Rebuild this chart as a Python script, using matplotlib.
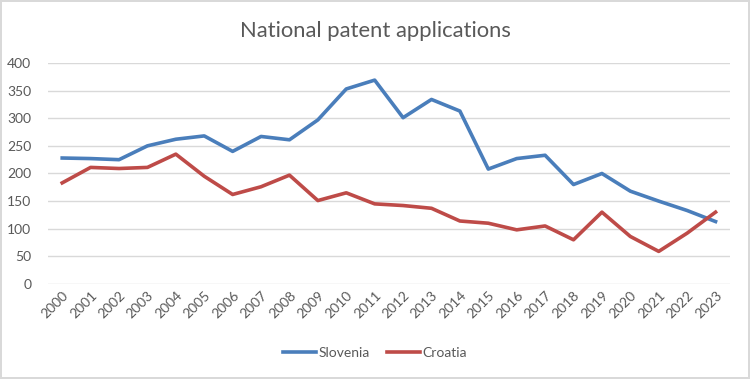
import numpy as np
import matplotlib
matplotlib.use("Agg")
import matplotlib.pyplot as plt

years = [str(y) for y in range(2000, 2024)]
slovenia = [228, 227, 225, 250, 262, 268, 240, 267, 261, 297, 353, 369,
            301, 334, 313, 208, 227, 233, 180, 200, 168, 150, 133, 113]
croatia = [183, 211, 209, 211, 235, 195, 162, 176, 197, 151, 165, 145,
           142, 137, 114, 110, 98, 105, 80, 130, 86, 59, 92, 130]

plt.rcParams['font.family'] = ['Lato', 'DejaVu Sans']
txt = '#595959'

fig = plt.figure(figsize=(7.5, 3.79), dpi=100)
fig.patch.set_edgecolor('#d9d9d9')
fig.patch.set_linewidth(1.5)
ax = fig.add_axes([0.064, 0.2507, 0.909, 0.5831])

x = np.arange(len(years))
ax.plot(x, slovenia, color='#4a7ebb', lw=2.6, label='Slovenia', solid_joinstyle='round')
ax.plot(x, croatia, color='#be4b48', lw=2.6, label='Croatia', solid_joinstyle='round')

ax.set_xlim(-0.5, len(years) - 0.5)
ax.set_ylim(0, 400)
ax.set_yticks(np.arange(0, 401, 50))
ax.grid(axis='y', color='#d9d9d9', lw=1)
ax.set_axisbelow(True)
for s in ax.spines.values():
    s.set_visible(False)
ax.tick_params(length=0, colors=txt, labelsize=10)
ax.tick_params(axis='y', pad=12)
ax.set_xticks(x)
ax.set_xticklabels(years, rotation=45, ha='right', rotation_mode='anchor')

fig.suptitle('National patent applications', y=0.945, fontsize=15.8, color=txt)
fig.legend(loc='lower center', bbox_to_anchor=(0.5, 0.02), ncol=2, frameon=False,
           fontsize=10, labelcolor=txt, handlelength=2.4, columnspacing=1.2,
           handletextpad=0.2)

fig.savefig('out.png', dpi=100)
